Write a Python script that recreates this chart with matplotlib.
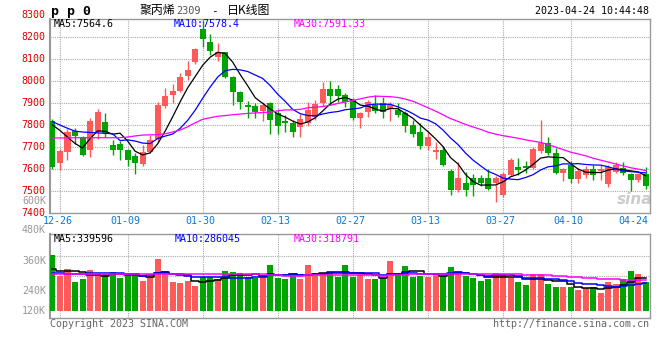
import numpy as np
import pandas as pd
import matplotlib
matplotlib.use('Agg')
import matplotlib.pyplot as plt

# daily candles, 2022-12-23 .. 2023-04-24 (80 sessions)
opens = [7818, 7626, 7677, 7773, 7744, 7688, 7770, 7812, 7708, 7715,
         7685, 7657, 7620, 7677, 7735, 7887, 7937, 7955, 8025, 8089,
         8238, 8177, 8109, 8132, 8021, 7952, 7891, 7887, 7866, 7902,
         7856, 7818, 7811, 7793, 7808, 7838, 7899, 7964, 7963, 7937,
         7914, 7831, 7861, 7891, 7899, 7872, 7869, 7855, 7798, 7769,
         7705, 7677, 7685, 7591, 7502, 7537, 7556, 7559, 7556, 7533,
         7479, 7571, 7606, 7614, 7605, 7682, 7716, 7670, 7579, 7617,
         7553, 7571, 7601, 7589, 7530, 7586, 7605, 7576, 7548, 7574]
highs = [7826, 7692, 7782, 7785, 7750, 7831, 7872, 7853, 7731, 7725,
         7692, 7670, 7708, 7754, 7907, 7970, 7986, 8036, 8094, 8150,
         8280, 8215, 8173, 8135, 8024, 7955, 7910, 7899, 7907, 7905,
         7872, 7846, 7823, 7849, 7907, 7914, 7995, 8001, 7983, 7945,
         7922, 7858, 7914, 7937, 7930, 7907, 7899, 7862, 7823, 7808,
         7769, 7723, 7703, 7598, 7632, 7586, 7574, 7571, 7598, 7565,
         7586, 7650, 7650, 7635, 7700, 7823, 7743, 7693, 7605, 7635,
         7605, 7614, 7617, 7617, 7617, 7632, 7632, 7579, 7582, 7609]
lows = [7597, 7595, 7638, 7715, 7657, 7654, 7735, 7745, 7662, 7638,
        7612, 7577, 7612, 7672, 7722, 7876, 7902, 7951, 8005, 8080,
        8157, 8120, 8094, 8015, 7891, 7872, 7834, 7831, 7818, 7758,
        7758, 7770, 7744, 7747, 7796, 7823, 7888, 7891, 7907, 7880,
        7823, 7785, 7838, 7853, 7831, 7818, 7838, 7770, 7743, 7690,
        7685, 7646, 7615, 7482, 7492, 7476, 7475, 7520, 7502, 7449,
        7470, 7565, 7571, 7579, 7601, 7670, 7665, 7575, 7543, 7533,
        7533, 7560, 7548, 7548, 7518, 7580, 7571, 7498, 7540, 7510]
closes = [7608, 7682, 7770, 7752, 7662, 7820, 7861, 7762, 7685, 7685,
          7642, 7628, 7677, 7731, 7891, 7932, 7955, 8021, 8051, 8147,
          8191, 8139, 8132, 8021, 7952, 7907, 7881, 7861, 7891, 7823,
          7796, 7808, 7770, 7826, 7869, 7894, 7964, 7932, 7932, 7907,
          7831, 7853, 7907, 7866, 7861, 7891, 7846, 7797, 7758, 7703,
          7743, 7685, 7619, 7505, 7559, 7502, 7525, 7537, 7507, 7560,
          7574, 7640, 7594, 7605, 7689, 7716, 7670, 7579, 7601, 7553,
          7589, 7601, 7571, 7601, 7609, 7617, 7579, 7548, 7576, 7520]
volumes = [575, 362, 431, 300, 327, 420, 385, 375, 396, 341,
           375, 385, 307, 351, 534, 413, 300, 282, 307, 255,
           351, 351, 327, 410, 396, 385, 351, 334, 351, 472,
           341, 327, 379, 327, 472, 389, 389, 398, 351, 472,
           351, 379, 323, 323, 334, 513, 385, 462, 344, 358,
           348, 379, 362, 447, 410, 362, 334, 307, 327, 385,
           369, 334, 300, 265, 379, 379, 276, 245, 245, 245,
           214, 230, 248, 183, 296, 276, 327, 410, 379, 300]  # thousands

# moving-average values before enough sessions are on the chart
ma5_head = [7800, 7775, 7745, 7716]
ma10_head = [7815, 7800, 7785, 7772, 7768, 7766, 7764, 7762, 7760]
ma30_head = [7740, 7741, 7741, 7742, 7742, 7742, 7742, 7742, 7742, 7742,
             7745, 7750, 7754, 7755, 7756, 7760, 7768, 7777, 7792, 7810,
             7826, 7833, 7840, 7843, 7847, 7850, 7853, 7855, 7857]
vma5_head = [431, 412, 410, 405]
vma10_head = [393, 385, 380, 380, 382, 385, 386, 386, 388]
vma30_head = [382] * 15 + [380] * 7 + [377] * 7

date_idx = [1, 10, 20, 30, 40, 50, 60, 69, 79]
date_labels = ['12-26', '01-09', '01-30', '02-13', '02-27', '03-13', '03-27', '04-10', '04-24']
price_ticks = [7400, 7500, 7600, 7700, 7800, 7900, 8000, 8100, 8200, 8300]
vol_labels = ['600K', '480K', '360K', '240K', '120K']
vol_label_px = [200.7, 230, 260.5, 290.7, 310.7]

RED = '#ff5a5a'
GREEN = '#00a400'
GRID = '#aaaaaa'
FRAME = '#999999'
MONO = 'DejaVu Sans Mono'
CJK = ['Noto Sans CJK SC', 'DejaVu Sans']


def moving_avg(values, n, head):
    ma = pd.Series(values, dtype=float).rolling(n).mean().to_numpy()
    ma[:n - 1] = head
    return ma


W, H = 660, 360
fig = plt.figure(figsize=(W / 100, H / 100), dpi=100)
fig.patch.set_facecolor('white')


def fy(py):
    return 1 - py / H


def fx(px):
    return px / W


ax1 = fig.add_axes([fx(50), fy(212.6), fx(600), (212.6 - 19) / H])
ax2 = fig.add_axes([fx(50), fy(317.7), fx(600), (317.7 - 234.3) / H])

x = np.arange(len(closes))
o = np.array(opens, float)
c = np.array(closes, float)
up = c >= o
colors = np.where(up, RED, GREEN)

# price candles
ax1.vlines(x, lows, highs, colors=colors, linewidth=1.0, zorder=3)
body_lo = np.minimum(o, c)
body_h = np.maximum(np.abs(c - o), 4)
ax1.bar(x, body_h, bottom=body_lo, width=0.8, color=colors, linewidth=0, zorder=4)

ax1.plot(x, moving_avg(closes, 5, ma5_head), color='black', lw=0.9, zorder=5)
ax1.plot(x, moving_avg(closes, 10, ma10_head), color='#0000ff', lw=0.9, zorder=5)
ax1.plot(x, moving_avg(closes, 30, ma30_head), color='#ff00ff', lw=0.9, zorder=5)

ax1.set_xlim(-0.33, 79.56)
ax1.set_ylim(7400, 8284)

# volume bars
vol = np.array(volumes) * 1000
ax2.bar(x, vol, width=0.8, color=colors, linewidth=0, zorder=3)
ax2.plot(x, moving_avg(vol, 5, np.array(vma5_head) * 1000), color='black', lw=1.1,
         drawstyle='steps-mid', zorder=5)
ax2.plot(x, moving_avg(vol, 10, np.array(vma10_head) * 1000), color='#0000ff', lw=1.1,
         drawstyle='steps-mid', zorder=5)
ax2.plot(x, moving_avg(vol, 30, np.array(vma30_head) * 1000), color='#ff00ff', lw=1.1,
         drawstyle='steps-mid', zorder=5)
ax2.set_xlim(-0.33, 79.56)
vscale = 10330  # volume per pixel
ax2.set_ylim(-7 * vscale, 76.4 * vscale)

dots = (0, (1, 1))
for ax in (ax1, ax2):
    ax.set_xticks([])
    ax.set_yticks([])
    for s in ax.spines.values():
        s.set_color(FRAME)
        s.set_linewidth(1.0)
    ax.spines['left'].set_linewidth(1.5)
    for d in date_idx[:-1]:
        ax.axvline(d, color=GRID, lw=0.8, ls=dots, zorder=1)

for p in price_ticks[1:-1]:
    ax1.axhline(p, color=GRID, lw=0.8, ls=dots, zorder=1)
for py in (255.7, 275.7, 295.7):
    ax2.axhline((310.7 - py) * vscale, color=GRID, lw=0.8, ls=dots, zorder=1)

# axis labels
ytr = ax1.get_yaxis_transform()
for p in price_ticks:
    ax1.text(-0.007, p, str(p), transform=ytr, ha='right', va='center',
             color='#e00000', fontsize=7.2, family=MONO, clip_on=False)
for lab, py in zip(vol_labels, vol_label_px):
    fig.text(fx(46), fy(py), lab, ha='right', va='center', color='#999999',
             fontsize=7.2, family=MONO)

xtr = ax1.get_xaxis_transform()
for d, lab in zip(date_idx, date_labels):
    ha = 'right' if d == date_idx[-1] else 'center'
    xx = 79.4 if d == date_idx[-1] else d - 0.3
    ax1.text(xx, -0.045, lab, transform=xtr, ha=ha, va='center',
             color='#0a78d2', fontsize=7.2, family=MONO, clip_on=False)

# legends inside panels
ma_price = ['MA5:7564.6', 'MA10:7578.4', 'MA30:7591.33']
ma_vol = ['MA5:339596', 'MA10:286045', 'MA30:318791']
ma_cols = ['black', '#0000ff', '#ff00ff']
for lab, col, px in zip(ma_price, ma_cols, [54, 174, 294]):
    fig.text(fx(px), fy(23.7), lab, color=col, fontsize=7.2, family=MONO, va='center')
for lab, col, px in zip(ma_vol, ma_cols, [54, 175, 294]):
    fig.text(fx(px), fy(238.5), lab, color=col, fontsize=7.2, family=MONO, va='center')

# header
fig.text(fx(51), fy(11), 'p p 0', fontsize=9.5, family=MONO, weight='bold', va='center')
fig.text(fx(140), fy(10.7), '聚丙烯', fontsize=8.6, family=CJK, va='center')
fig.text(fx(176.5), fy(11), '2309', fontsize=7.4, family=MONO, color='#555555', va='center')
fig.text(fx(211), fy(11), '-', fontsize=8, family=MONO, va='center')
fig.text(fx(227), fy(10.7), '日K线图', fontsize=8.6, family=CJK, va='center')
fig.text(fx(649), fy(11.5), '2023-04-24 10:44:48', fontsize=7.2, family=MONO,
         ha='right', va='center')

# footer and watermark
fig.text(fx(50), fy(324), 'Copyright 2023 SINA.COM', fontsize=7.2, family=MONO,
         color='#666666', va='center')
fig.text(fx(649), fy(324), 'http://finance.sina.com.cn', fontsize=7.2, family=MONO,
         color='#666666', ha='right', va='center')
ax1.text(0.975, 0.07, 'sina', transform=ax1.transAxes, fontsize=11, style='italic',
         weight='bold', color='#cccccc', ha='center', va='center', zorder=2)

fig.savefig('out.png', dpi=100, facecolor='white')
